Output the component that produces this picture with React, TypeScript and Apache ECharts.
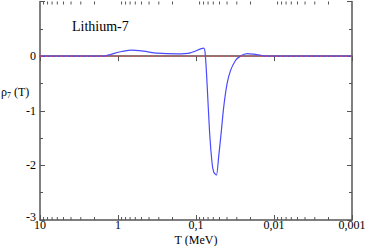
import React, { useEffect, useRef } from "react";
import * as echarts from "echarts";

// Temperature T (MeV) and rho_7(T)
const tValues = [10, 1.54, 1.25, 0.93, 0.69, 0.47, 0.315, 0.175, 0.118, 0.0797, 0.0758, 0.0721, 0.0668, 0.0622, 0.0593, 0.0548, 0.0512, 0.0477, 0.0441, 0.04, 0.0362, 0.0313, 0.027, 0.0221, 0.0182, 0.0123, 0.001];
const rhoValues = [0, 0, 0.03, 0.08, 0.11, 0.09, 0.055, 0.042, 0.06, 0.145, 0.0, -0.51, -1.42, -1.96, -2.12, -2.18, -1.84, -1.42, -0.93, -0.51, -0.27, -0.085, 0, 0.047, 0.035, 0, 0];
const refT = [10, 0.001];
const refRho = [0, 0];
const minorTickValues: number[] = [];
for (const dec of [0.001, 0.01, 0.1, 1]) for (let k = 2; k <= 9; k++) minorTickValues.push(+(k * dec).toPrecision(3));

const serif = "Liberation Serif";
const axisColor = "#555";

export default function App() {
  const ref = useRef<HTMLDivElement>(null);
  useEffect(() => {
    const chart = echarts.init(ref.current!, null, { renderer: "svg" });
    const xFmt = (v: number) => String(Number(v.toPrecision(3))).replace(".", ",");
    const xBase = {
      type: "log" as const,
      logBase: 10,
      min: 0.001,
      max: 10,
      inverse: true,
      axisLine: { lineStyle: { color: axisColor, width: 1.5 } },
      axisTick: { inside: true, length: 5, lineStyle: { color: axisColor } },
      splitLine: { show: false },
    };
    const yBase = {
      type: "value" as const,
      min: -3,
      max: 1,
      interval: 1,
      axisLine: { show: true, onZero: false, lineStyle: { color: axisColor, width: 1.5 } },
      axisTick: { show: true, inside: true, length: 5, lineStyle: { color: axisColor } },
      minorTick: { show: true, splitNumber: 2, length: 3, lineStyle: { color: axisColor } },
      splitLine: { show: false },
    };
    chart.setOption({
      animation: false,
      textStyle: { fontFamily: serif },
      grid: { left: 40, right: 13, top: 1.5, bottom: 26, containLabel: false, outerBoundsMode: "none" },
      xAxis: [
        {
          ...xBase,
          position: "bottom",
          axisLine: { ...xBase.axisLine, onZero: false },
          axisLabel: { formatter: xFmt, color: "#000", fontFamily: serif, fontSize: 12, lineHeight: 12, margin: -1 },
        },
        { ...xBase, position: "top", axisLabel: { show: false } },
      ],
      yAxis: [
        {
          ...yBase,
          position: "left",
          axisLabel: {
            formatter: (v: number) => (v === 1 ? "" : v === -3 ? "{m|-3}" : String(v)),
            rich: { m: { fontFamily: serif, fontSize: 12, color: "#000", padding: [0, 0, 7, 0] } },
            color: "#000",
            fontFamily: serif,
            fontSize: 12,
            margin: 4,
          },
        },
        { ...yBase, position: "right", axisLabel: { show: false } },
      ],
      graphic: [
        {
          type: "text",
          left: 72,
          top: 19,
          style: { text: "Lithium-7", fontFamily: serif, fontSize: 14, fill: "#000" },
        },
        {
          type: "text",
          x: 196,
          y: 239.5,
          style: {
            text: "T (MeV)",
            fontFamily: serif,
            fontSize: 12,
            fill: "#000",
            align: "center",
            verticalAlign: "middle",
          },
        },
        {
          type: "text",
          left: 1,
          top: 86,
          style: {
            text: "{a|ρ}{s|7}{a| (T)}",
            rich: {
              a: { fontFamily: serif, fontSize: 12, fill: "#000" },
              s: { fontFamily: serif, fontSize: 8, fill: "#000", padding: [7, 0, 0, 0] },
            },
          },
        },
      ],
      series: [
        {
          type: "line",
          data: tValues.map((t, i) => [t, rhoValues[i]]),
          showSymbol: false,
          smooth: 0.25,
          lineStyle: { color: "#4a4aff", width: 1.2 },
          z: 2,
        },
        {
          type: "line",
          data: refT.map((t, i) => [t, refRho[i]]),
          showSymbol: false,
          lineStyle: { color: "#ff4040", width: 0.8, type: [3, 2] },
          z: 3,
        },
        {
          type: "custom",
          data: minorTickValues.map((t) => [t, 0]),
          renderItem: (params: any, api: any) => {
            const x = api.coord([api.value(0), 0])[0];
            const cs = params.coordSys;
            const style = { stroke: axisColor, lineWidth: 1 };
            return {
              type: "group",
              children: [
                { type: "line", shape: { x1: x, y1: cs.y + cs.height, x2: x, y2: cs.y + cs.height - 3 }, style },
                { type: "line", shape: { x1: x, y1: cs.y, x2: x, y2: cs.y + 3 }, style },
              ],
            };
          },
          silent: true,
          z: 1,
        },
      ],
    });
    return () => chart.dispose();
  }, []);
  return <div ref={ref} style={{ position: "absolute", left: 0, top: 0, width: 365, height: 246 }} />;
}
